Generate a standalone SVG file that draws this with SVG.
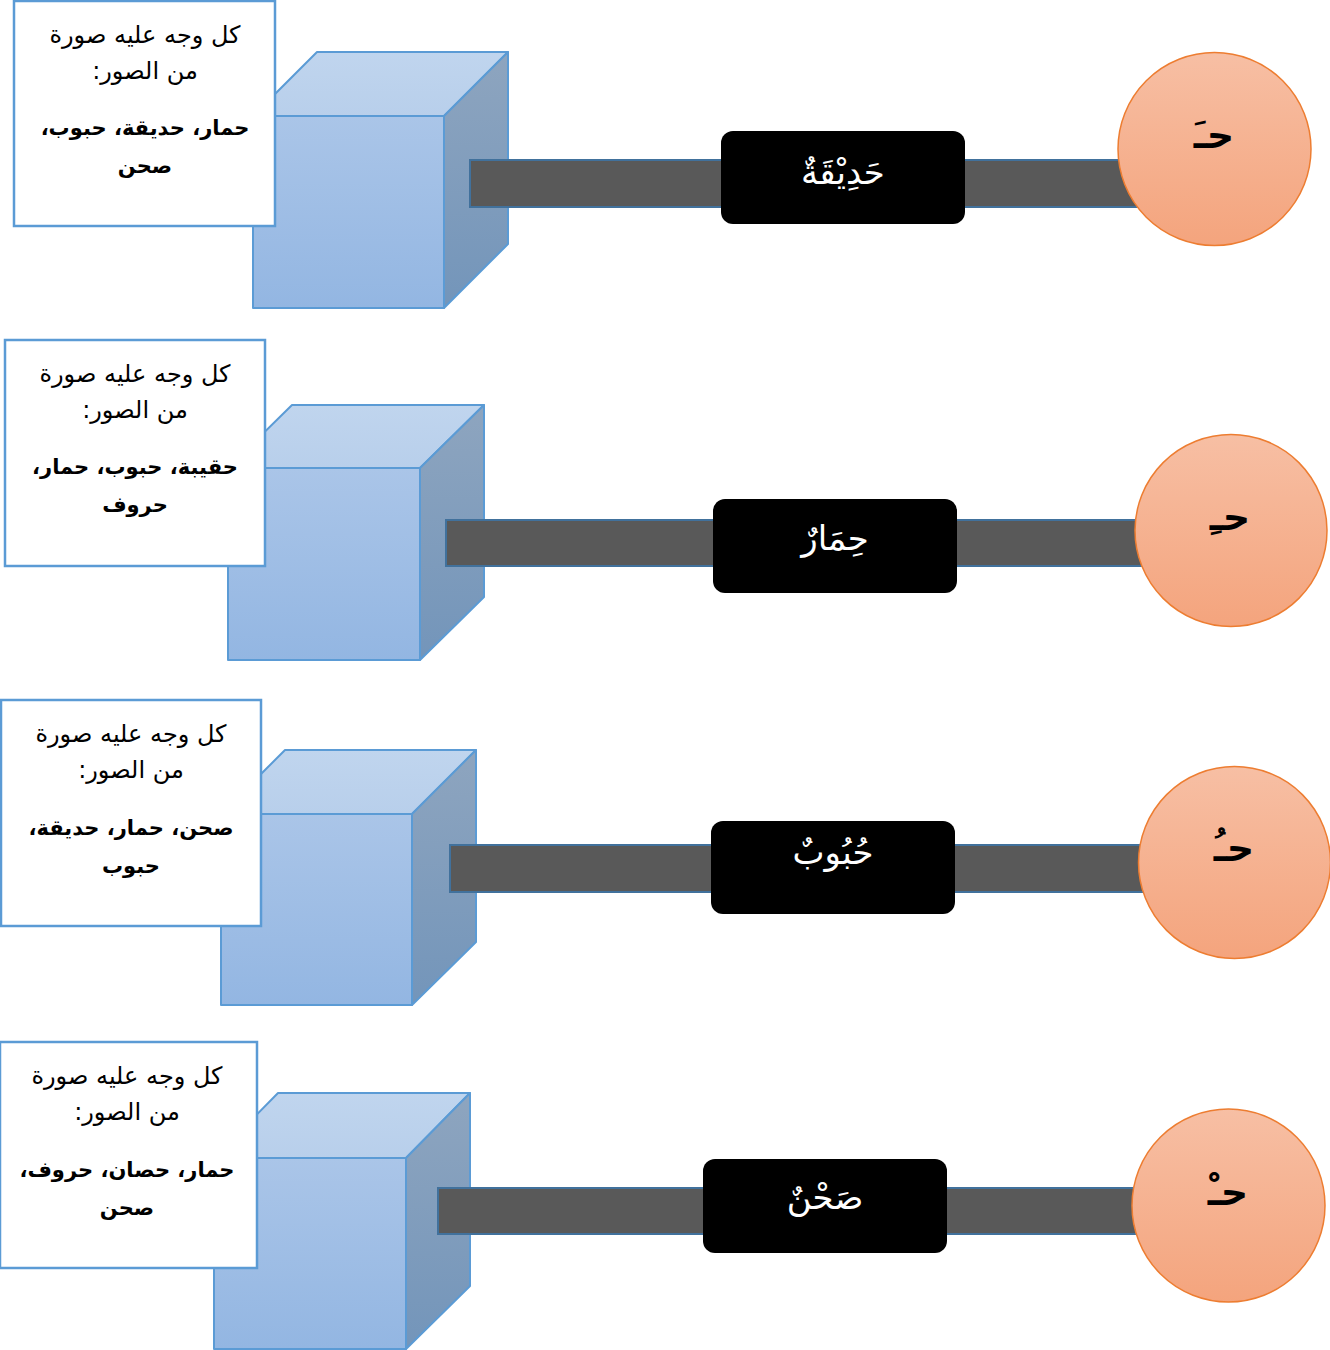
<svg xmlns="http://www.w3.org/2000/svg" width="1330" height="1350" viewBox="0 0 1330 1350">
<defs>
<linearGradient id="gFront" x1="0" y1="0" x2="0" y2="1"><stop offset="0" stop-color="#aac5e8"/><stop offset="1" stop-color="#93b6e2"/></linearGradient>
<linearGradient id="gTop" x1="0" y1="0" x2="0" y2="1"><stop offset="0" stop-color="#c0d5ee"/><stop offset="1" stop-color="#b8cfeb"/></linearGradient>
<linearGradient id="gSide" x1="0" y1="0" x2="0" y2="1"><stop offset="0" stop-color="#8ea5bf"/><stop offset="1" stop-color="#7395ba"/></linearGradient>
<linearGradient id="gCirc" x1="0" y1="0" x2="0" y2="1"><stop offset="0" stop-color="#f7bfa4"/><stop offset="1" stop-color="#f4a47d"/></linearGradient>
<style>
.cube{stroke:#5b9bd5;stroke-width:2;stroke-linejoin:round}
.front{fill:url(#gFront)}
.top{fill:url(#gTop)}
.side{fill:url(#gSide)}
.box{fill:#ffffff;stroke:#5b9bd5;stroke-width:2.5}
.bar{fill:#595959;stroke:#41719c;stroke-width:2}
.word{fill:#000000}
.circ{fill:url(#gCirc);stroke:#ed7d31;stroke-width:1.5}
.t{font-family:"DejaVu Sans",sans-serif;font-size:24px;fill:#000;text-anchor:middle}
.tb{font-weight:bold;font-size:21px}
.w{font-family:"DejaVu Sans",sans-serif;font-size:34px;fill:#fff;text-anchor:middle}
.c{font-family:"DejaVu Sans",sans-serif;font-size:38px;font-weight:bold;fill:#000;text-anchor:middle}
</style>
</defs>

<g id="cube1">
<rect class="cube front" x="253" y="116" width="191" height="192"/>
<polygon class="cube top" points="253,116 317,52 508,52 444,116"/>
<polygon class="cube side" points="444,116 508,52 508,244 444,308"/>
</g>
<g id="cube2">
<rect class="cube front" x="228" y="468" width="192" height="192"/>
<polygon class="cube top" points="228,468 292,405 484,405 420,468"/>
<polygon class="cube side" points="420,468 484,405 484,597 420,660"/>
</g>
<g id="cube3">
<rect class="cube front" x="221" y="814" width="191" height="191"/>
<polygon class="cube top" points="221,814 285,750 476,750 412,814"/>
<polygon class="cube side" points="412,814 476,750 476,942 412,1005"/>
</g>
<g id="cube4">
<rect class="cube front" x="214" y="1158" width="192" height="191"/>
<polygon class="cube top" points="214,1158 278,1093 470,1093 406,1158"/>
<polygon class="cube side" points="406,1158 470,1093 470,1286 406,1349"/>
</g>

<g id="connectors">
<rect class="bar" x="470" y="160" width="745" height="47"/>
<rect class="bar" x="446" y="520" width="785" height="46"/>
<rect class="bar" x="450" y="845" width="785" height="47"/>
<rect class="bar" x="438" y="1188" width="790" height="46"/>
</g>

<g id="box1">
<rect class="box" x="14" y="1" width="261" height="225"/>
<text class="t" x="145" y="43">&#x200F;كل وجه عليه صورة&#x200F;</text>
<text class="t" x="145" y="79">&#x200F;من الصور:&#x200F;</text>
<text class="t tb" x="145" y="135">&#x200F;حمار، حديقة، حبوب،&#x200F;</text>
<text class="t tb" x="145" y="173">&#x200F;صحن&#x200F;</text>
</g>
<g id="box2">
<rect class="box" x="5" y="340" width="260" height="226"/>
<text class="t" x="135" y="382">&#x200F;كل وجه عليه صورة&#x200F;</text>
<text class="t" x="135" y="418">&#x200F;من الصور:&#x200F;</text>
<text class="t tb" x="135" y="474">&#x200F;حقيبة، حبوب، حمار،&#x200F;</text>
<text class="t tb" x="135" y="512">&#x200F;حروف&#x200F;</text>
</g>
<g id="box3">
<rect class="box" x="1" y="700" width="260" height="226"/>
<text class="t" x="131" y="742">&#x200F;كل وجه عليه صورة&#x200F;</text>
<text class="t" x="131" y="778">&#x200F;من الصور:&#x200F;</text>
<text class="t tb" x="131" y="835">&#x200F;صحن، حمار، حديقة،&#x200F;</text>
<text class="t tb" x="131" y="873">&#x200F;حبوب&#x200F;</text>
</g>
<g id="box4">
<rect class="box" x="0" y="1042" width="257" height="226"/>
<text class="t" x="127" y="1084">&#x200F;كل وجه عليه صورة&#x200F;</text>
<text class="t" x="127" y="1120">&#x200F;من الصور:&#x200F;</text>
<text class="t tb" x="127" y="1177">&#x200F;حمار، حصان، حروف،&#x200F;</text>
<text class="t tb" x="127" y="1215">&#x200F;صحن&#x200F;</text>
</g>

<g id="word1">
<rect class="word" x="721" y="131" width="244" height="93" rx="12"/>
<text class="w" x="843" y="184">حَدِيْقَةٌ</text>
</g>
<g id="word2">
<rect class="word" x="713" y="499" width="244" height="94" rx="12"/>
<text class="w" x="835" y="550">حِمَارٌ</text>
</g>
<g id="word3">
<rect class="word" x="711" y="821" width="244" height="93" rx="12"/>
<text class="w" x="833" y="864">حُبُوبٌ</text>
</g>
<g id="word4">
<rect class="word" x="703" y="1159" width="244" height="94" rx="12"/>
<text class="w" x="825" y="1209">صَحْنٌ</text>
</g>

<g id="circle1">
<circle class="circ" cx="1214.5" cy="149" r="96.5"/>
<text class="c" x="1214" y="148">حـَ</text>
</g>
<g id="circle2">
<circle class="circ" cx="1231" cy="530.5" r="96"/>
<text class="c" x="1230" y="530">حـِ</text>
</g>
<g id="circle3">
<circle class="circ" cx="1234.5" cy="862.5" r="96"/>
<text class="c" x="1234" y="861">حـُ</text>
</g>
<g id="circle4">
<circle class="circ" cx="1228.5" cy="1205.5" r="96.5"/>
<text class="c" x="1228" y="1205">حـْ</text>
</g>
</svg>
